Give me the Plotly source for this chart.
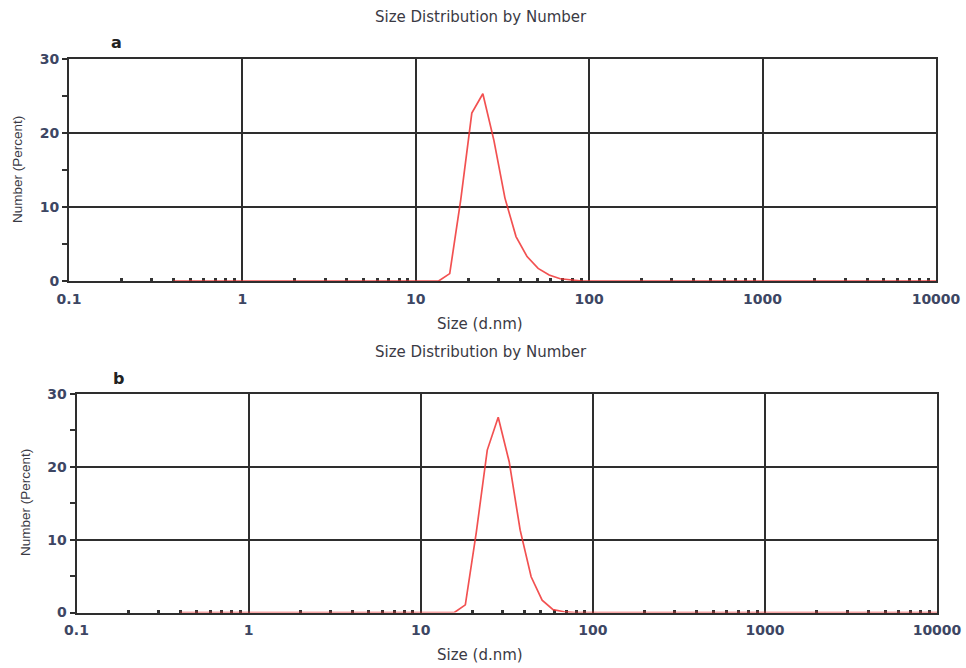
import plotly.graph_objects as go

# Malvern size bins (d.nm)
sizes = [0.4, 0.4632, 0.5365, 0.6213, 0.7195, 0.8332, 0.9649, 1.117, 1.294, 1.499,
         1.736, 2.010, 2.328, 2.696, 3.122, 3.615, 4.187, 4.849, 5.615, 6.503,
         7.531, 8.721, 10.10, 11.70, 13.54, 15.69, 18.17, 21.04, 24.36, 28.21,
         32.67, 37.84, 43.82, 50.75, 58.77, 68.06, 78.82, 91.28, 105.7, 122.4,
         141.8, 164.2, 190.1, 220.2, 255.0, 295.3, 342.0, 396.1, 458.7, 531.2,
         615.1, 712.4, 825.0, 955.4, 1106, 1281, 1484, 1718, 1990, 2305,
         2669, 3091, 3580, 4145, 4801, 5560, 6439, 7456, 8635, 10000]

number_a = [0, 0, 0, 0, 0, 0, 0, 0, 0, 0,
            0, 0, 0, 0, 0, 0, 0, 0, 0, 0,
            0, 0, 0, 0, 0, 1.0, 11.0, 22.7, 25.3, 19.0,
            11.2, 6.0, 3.3, 1.7, 0.8, 0.3, 0.1, 0, 0, 0,
            0, 0, 0, 0, 0, 0, 0, 0, 0, 0,
            0, 0, 0, 0, 0, 0, 0, 0, 0, 0,
            0, 0, 0, 0, 0, 0, 0, 0, 0, 0]

number_b = [0, 0, 0, 0, 0, 0, 0, 0, 0, 0,
            0, 0, 0, 0, 0, 0, 0, 0, 0, 0,
            0, 0, 0, 0, 0, 0, 1.05, 11.0, 22.3, 26.8,
            20.7, 11.3, 4.9, 1.7, 0.4, 0.1, 0, 0, 0, 0,
            0, 0, 0, 0, 0, 0, 0, 0, 0, 0,
            0, 0, 0, 0, 0, 0, 0, 0, 0, 0,
            0, 0, 0, 0, 0, 0, 0, 0, 0, 0]

x_ticks = [0.1, 1, 10, 100, 1000, 10000]
x_tick_labels = ["0.1", "1", "10", "100", "1000", "10000"]
y_ticks = [0, 10, 20, 30]
x_minor = [m * d for d in [0.1, 1, 10, 100, 1000] for m in range(2, 10)]
y_minor = [5, 15, 25]

title_text = "Size Distribution by Number"
xlabel = "Size (d.nm)"
ylabel = "Number (Percent)"
panel_labels = ["a", "b"]

# the page body margin is removed (post_script) so the figure fills the window
W, H = 966, 668

def px(x):
    return x / W

def py(y):
    return 1 - y / H

LINE_RED = "rgba(240,50,50,0.85)"
GRID = "#2e2e2e"
TICKFONT = dict(family="DejaVu Sans", size=14, color="#3d4663", weight="bold")
TEXTFONT = dict(family="DejaVu Sans", size=15, color="#3a3a44")

fig = go.Figure()
fig.add_trace(go.Scatter(x=sizes, y=number_a, mode="lines",
                         line=dict(color=LINE_RED, width=1.7),
                         xaxis="x", yaxis="y", showlegend=False))
fig.add_trace(go.Scatter(x=sizes, y=number_b, mode="lines",
                         line=dict(color=LINE_RED, width=1.7),
                         xaxis="x2", yaxis="y2", showlegend=False))

# panel pixel boxes in window pixels: (left, right, top, bottom)
boxes = [(69, 936, 59, 281), (76.5, 937, 394, 612.5)]

def xaxis_cfg(l, r, anchor):
    return dict(type="log", range=[-1, 4], domain=[px(l), px(r)], anchor=anchor,
                automargin=False, layer="below traces",
                tickmode="array", tickvals=x_ticks, ticktext=x_tick_labels,
                ticks="", ticklabelstandoff=4, tickfont=TICKFONT,
                showgrid=True, gridcolor=GRID, gridwidth=2,
                showline=True, linecolor=GRID, linewidth=2, mirror=True, zeroline=False,
                minor=dict(tickmode="array", tickvals=x_minor, ticks="inside",
                           ticklen=3, tickwidth=3, tickcolor="#333", showgrid=False),
                fixedrange=True)

def yaxis_cfg(t, b, anchor):
    return dict(range=[0, 30], domain=[py(b), py(t)], anchor=anchor,
                automargin=False, layer="below traces",
                tickmode="array", tickvals=y_ticks, ticks="outside", ticklen=5,
                tickwidth=2, tickcolor=GRID, tickfont=TICKFONT,
                showgrid=True, gridcolor=GRID, gridwidth=2,
                showline=True, linecolor=GRID, linewidth=2, mirror=True, zeroline=False,
                minor=dict(tickmode="array", tickvals=y_minor, ticks="outside",
                           ticklen=5, tickwidth=2, tickcolor="#333", showgrid=False),
                fixedrange=True)

l, r, t, b = boxes[0]
fig.update_layout(xaxis=xaxis_cfg(l, r, "y"), yaxis=yaxis_cfg(t, b, "x"))
l, r, t, b = boxes[1]
fig.update_layout(xaxis2=xaxis_cfg(l, r, "y2"), yaxis2=yaxis_cfg(t, b, "x2"))

annotations = []
title_y = [17, 352]
xlabel_y = [324, 655]
panel_pos = [(116, 42), (118, 378)]
ylabel_y = [170, 503]
ylabel_x = [18, 25]
for i in range(2):
    annotations.append(dict(text=title_text, x=px(481), y=py(title_y[i]), xref="paper",
                            yref="paper", showarrow=False, font=TEXTFONT,
                            xanchor="center", yanchor="middle"))
    annotations.append(dict(text=xlabel, x=px(480), y=py(xlabel_y[i]), xref="paper",
                            yref="paper", showarrow=False,
                            font=dict(family="DejaVu Sans", size=15, color="#3a3a44"),
                            xanchor="center", yanchor="middle"))
    annotations.append(dict(text=panel_labels[i], x=px(panel_pos[i][0]),
                            y=py(panel_pos[i][1]), xref="paper", yref="paper",
                            showarrow=False,
                            font=dict(family="DejaVu Sans", size=16, color="#222",
                                      weight="bold"),
                            xanchor="center", yanchor="middle"))
    annotations.append(dict(text=ylabel, x=px(ylabel_x[i]), y=py(ylabel_y[i]),
                            xref="paper", yref="paper", showarrow=False, textangle=-90,
                            font=dict(family="Liberation Sans, Arial", size=13.5,
                                      color="#3a3a44"),
                            xanchor="center", yanchor="middle"))

fig.update_layout(width=W, height=H, margin=dict(l=0, r=0, t=0, b=0),
                  paper_bgcolor="white", plot_bgcolor="white",
                  annotations=annotations, showlegend=False)

fig.write_html("out.html", config={"displayModeBar": False},
               post_script="document.body.style.margin='0px';"
                           "document.body.style.overflow='hidden';")
